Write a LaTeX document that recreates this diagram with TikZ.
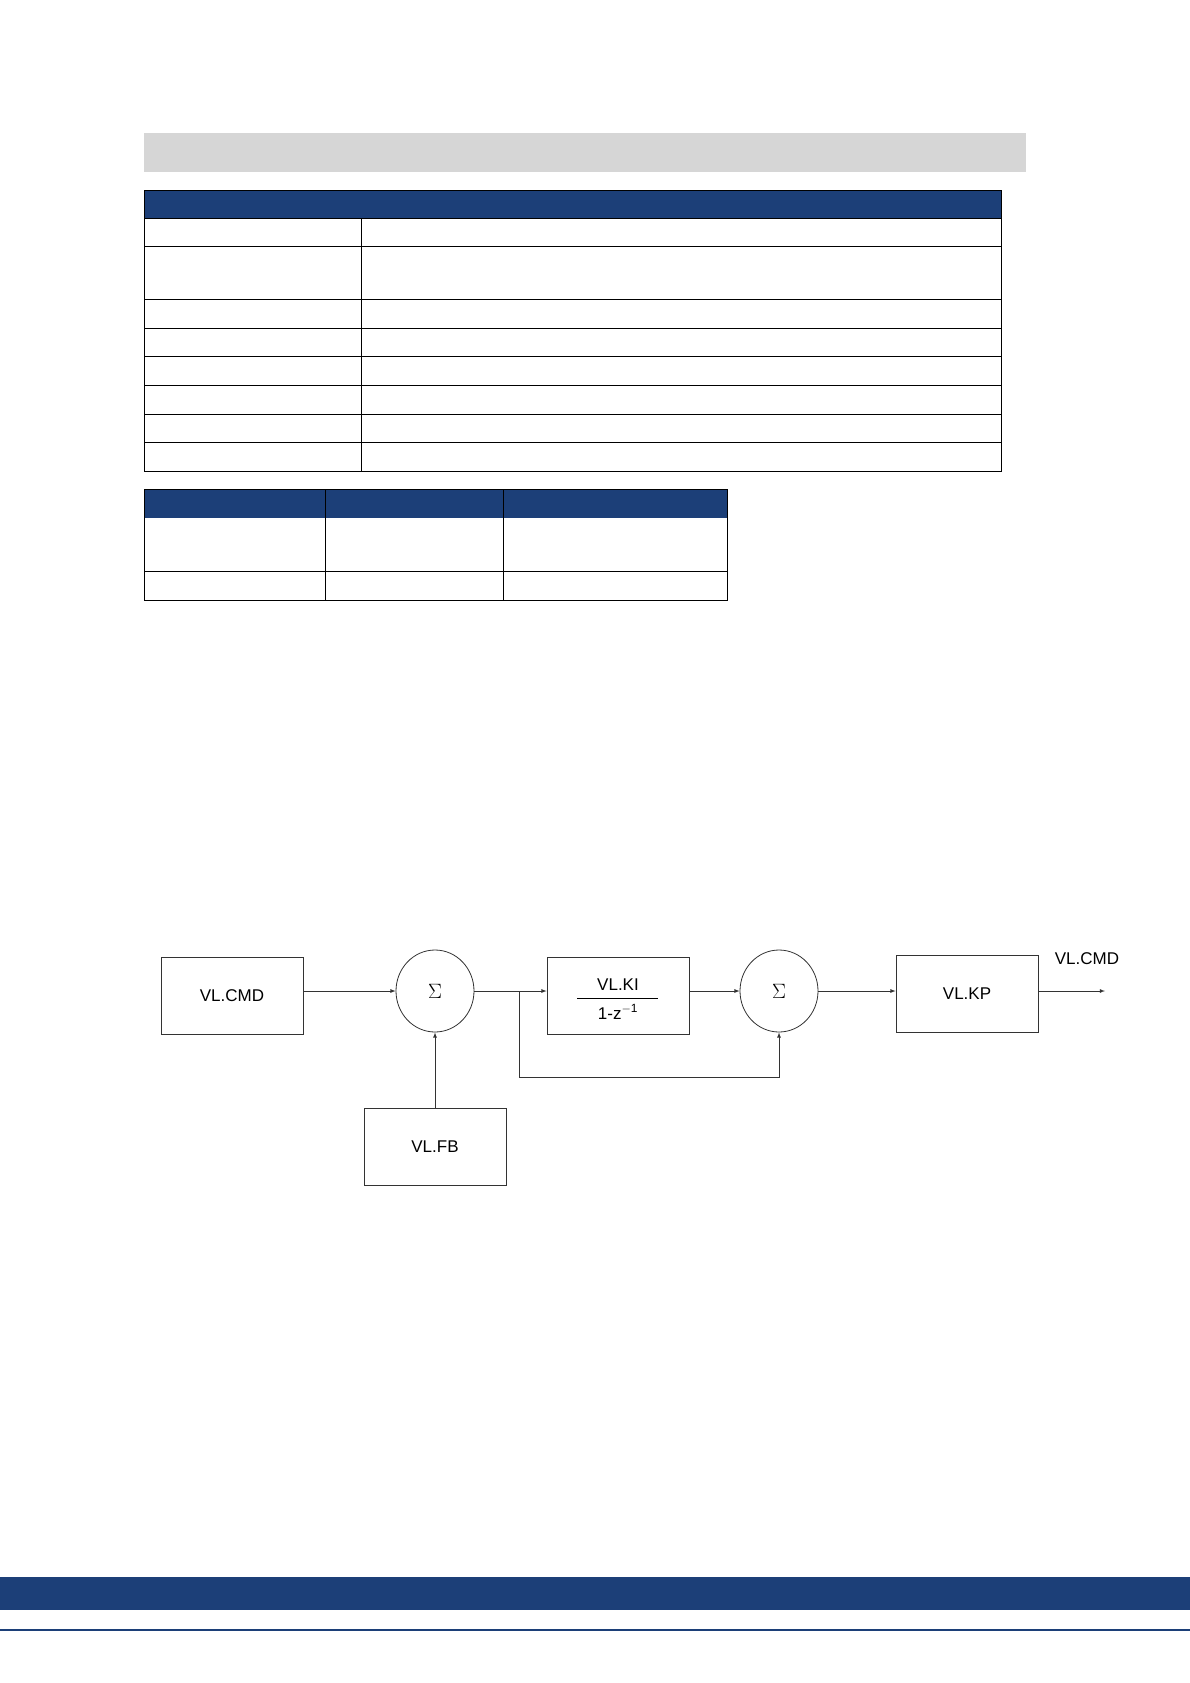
\documentclass[tikz,border=0pt]{standalone}
\usepackage{fontspec}
\setmainfont{Liberation Sans}
\usepackage{xcolor}
\usetikzlibrary{shapes.geometric}
\definecolor{vnavy}{HTML}{1c3f78}
\definecolor{vgray}{HTML}{d6d6d6}
\begin{document}
\begin{tikzpicture}[x=1pt,y=-1pt,
	blockbox/.style={draw=black!80, thick, minimum width=142pt, minimum height=77pt, font=\fontsize{17}{19}\selectfont},
	sumnode/.style={draw=black!80, thick, ellipse, minimum width=78pt, minimum height=82pt, font=\fontsize{22}{24}\selectfont},
	flow/.style={draw=black!80, thick, -latex}]
	\useasboundingbox (0,0) rectangle (1190,1683);
	% page header and tables
	\fill[vgray] (144,133) rectangle (1026,172);
	\fill[vnavy] (144,190) rectangle (1001,218);
	\draw[thick] (144,190) rectangle (1001,471);
	\draw[thick] (361,218) -- (361,471);
	\foreach \y in {218,246,299,328,356,385,414,442}
		\draw[thick] (144,\y) -- (1001,\y);
	\fill[vnavy] (144,489) rectangle (727,518);
	\draw[thick] (144,489) rectangle (727,600);
	\draw[thick] (325,489) -- (325,600);
	\draw[thick] (503,489) -- (503,600);
	\draw[thick] (144,571) -- (727,571);
	% block diagram
	\node[blockbox] (cmd) at (232,996) {VL.CMD};
	\node[sumnode] (suma) at (435,991) {$\Sigma$};
	\node[blockbox] (ki) at (618,996) {};
	\node[font=\fontsize{17}{19}\selectfont] (kinum) at (618,985) {VL.KI};
	\node[font=\fontsize{17}{19}\selectfont] (kiden) at (618,1012) {1-z$^{\mathrm{-1}}$};
	\draw[thick] (577,998) -- (658,998);
	\node[sumnode] (sumb) at (779,991) {$\Sigma$};
	\node[blockbox] (kp) at (967,994) {VL.KP};
	\node[blockbox] (fb) at (435,1147) {VL.FB};
	\coordinate (out) at (1105,991);
	\coordinate (split) at (519,991);
	\node[font=\fontsize{17}{19}\selectfont] (outlbl) at (1087,959) {VL.CMD};
	\draw[flow] (cmd.east |- suma) -- (suma);
	\draw[flow] (fb) -- (suma);
	\draw[flow] (suma) -- (ki.west |- suma);
	\draw[flow] (ki.east |- sumb) -- (sumb);
	\draw[flow] (sumb) -- (kp.west |- sumb);
	\draw[flow] (kp.east |- out) -- (out);
	\draw[flow] (split) -- (519,1077) -| (sumb.south);
	% footer
	\fill[vnavy] (0,1577) rectangle (1190,1610);
	\draw[vnavy, very thick] (0,1630) -- (1190,1630);
\end{tikzpicture}
\end{document}
